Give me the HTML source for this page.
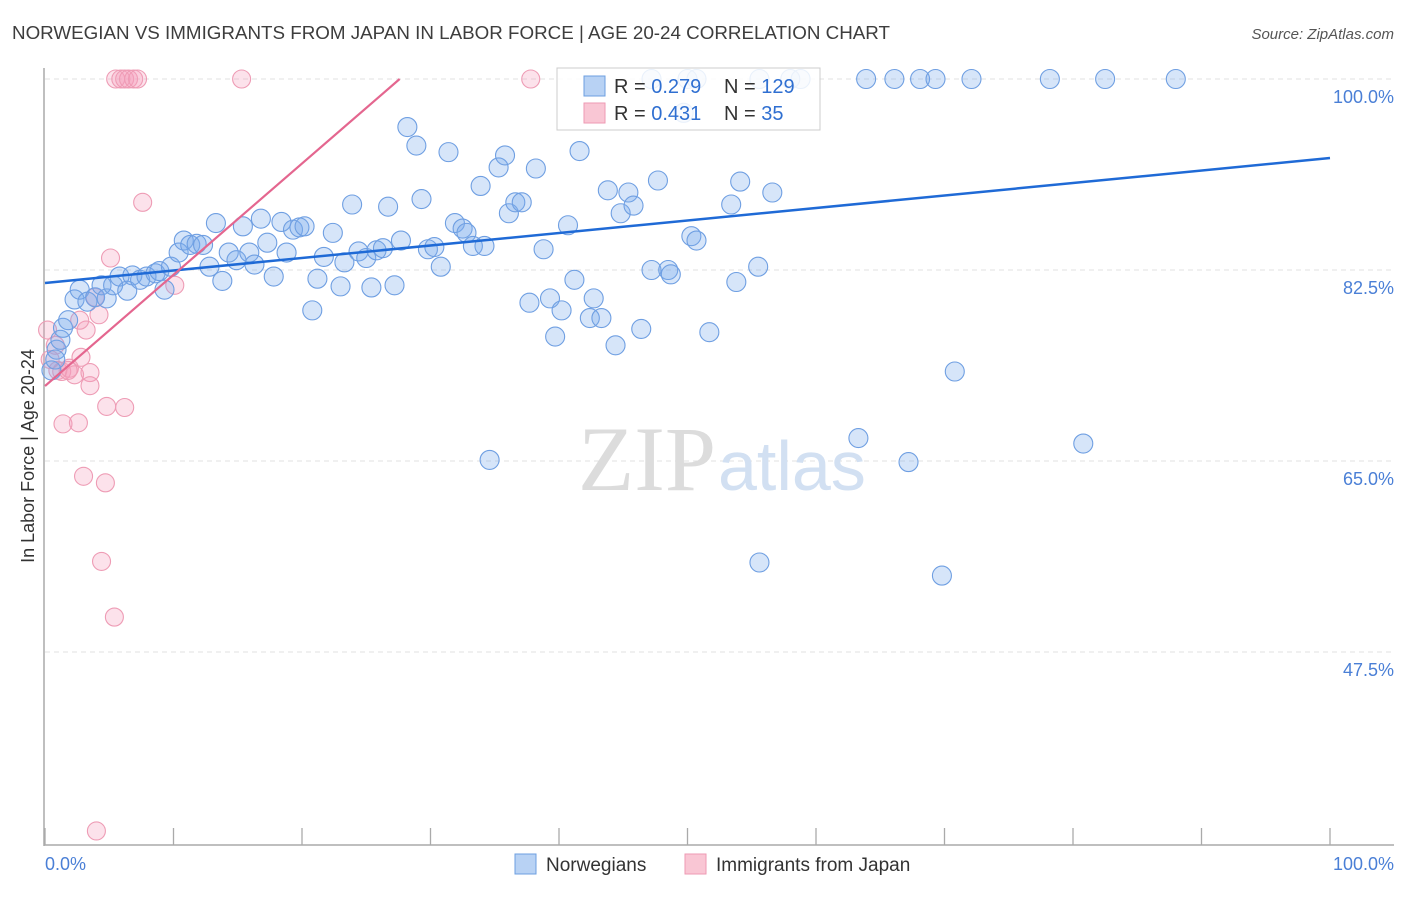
<!DOCTYPE html>
<html><head><meta charset="utf-8">
<style>
body{margin:0;background:#fff;font-family:"Liberation Sans",sans-serif;}
svg text{font-family:"Liberation Sans",sans-serif;}
</style></head>
<body>
<svg id="chart" width="1406" height="892" viewBox="0 0 1406 892" xmlns="http://www.w3.org/2000/svg">
<text x="12" y="39" font-size="18.8" fill="#3d3d3d">NORWEGIAN VS IMMIGRANTS FROM JAPAN IN LABOR FORCE | AGE 20-24 CORRELATION CHART</text>
<text x="1394" y="39" font-size="15" fill="#555" font-style="italic" text-anchor="end">Source: ZipAtlas.com</text>
<g id="grid"></g>
<text x="716" y="490" font-size="92" fill="#dcdcdc" text-anchor="end" style="font-family:'Liberation Serif',serif">ZIP</text>
<text x="718" y="490" font-size="70" fill="#d2e0f2">atlas</text>
<line x1="44" y1="68" x2="44" y2="846" stroke="#aaa" stroke-width="1.5"/>
<line x1="44" y1="845" x2="1394" y2="845" stroke="#aaa" stroke-width="1.5"/>
<g id="xticks"></g>
<g id="points"></g>
<g id="lines"></g>
<text transform="translate(34,456) rotate(-90)" font-size="18" fill="#333" text-anchor="middle">In Labor Force | Age 20-24</text>
<text x="45" y="870" font-size="18" fill="#4a7fd6">0.0%</text>
<text x="1394" y="870" font-size="18" fill="#4a7fd6" text-anchor="end">100.0%</text>
<g>
<rect x="557" y="68" width="263" height="62" fill="#fff" fill-opacity="0.85" stroke="#ccc"/>
<rect x="584" y="76" width="21" height="20" fill="#b8d2f4" stroke="#6d9fe0"/>
<rect x="584" y="103" width="21" height="20" fill="#f9c6d4" stroke="#ee9ab3"/>
<text x="614" y="93" font-size="20" fill="#333">R = <tspan fill="#2f6fd1">0.279</tspan></text>
<text x="724" y="93" font-size="20" fill="#333">N = <tspan fill="#2f6fd1">129</tspan></text>
<text x="614" y="120" font-size="20" fill="#333">R = <tspan fill="#2f6fd1"> 0.431</tspan></text>
<text x="724" y="120" font-size="20" fill="#333">N = <tspan fill="#2f6fd1">  35</tspan></text>
</g>
<g>
<rect x="515" y="854" width="21" height="20" fill="#b8d2f4" stroke="#6d9fe0"/>
<text x="546" y="871" font-size="19" fill="#333">Norwegians</text>
</g>
<g>
<rect x="685" y="854" width="21" height="20" fill="#f9c6d4" stroke="#ee9ab3"/>
<text x="716" y="871" font-size="19" fill="#333">Immigrants from Japan</text>
</g>
</svg>
<script>
const yTicks=[100,82.5,65,47.5];
const yTickLabels=["100.0%","82.5%","65.0%","47.5%"];
const blueX=[2.3,2.7,3.3,3.9,4.4,4.8,5.3,5.8,6.4,6.8,7.4,7.9,8.6,8.9,9.3,9.8,10.4,10.8,11.3,11.8,12.3,12.8,13.3,13.8,14.3,14.9,15.4,15.9,16.3,16.8,17.3,17.8,18.4,18.8,19.3,19.8,20.2,20.8,21.2,21.7,22.4,23.0,23.3,23.9,24.4,25.0,25.4,25.8,26.3,26.7,27.2,27.7,28.2,28.9,29.3,29.8,30.3,30.8,31.4,31.9,32.5,32.8,33.3,33.9,34.2,34.6,35.3,35.8,36.1,36.6,37.1,37.7,38.2,38.8,39.3,39.7,40.2,40.7,41.2,41.6,42.4,42.7,43.3,43.8,44.4,44.8,45.4,45.8,46.4,47.2,47.7,48.5,48.7,50.3,50.7,51.7,53.4,53.8,54.1,55.5,56.6,55.6,63.3,67.2,69.8,70.8,80.8,47.2,50.0,50.7,55.6,58.0,58.8,63.9,66.1,68.1,69.3,72.1,78.2,82.5,88.0,49.7,0.9,1.2,0.5,1.4,1.8,0.8];
const blueY=[79.8,80.7,79.6,80.0,81.1,79.9,81.1,81.9,80.6,82.0,81.6,81.9,82.2,82.4,80.7,82.8,84.1,85.2,84.8,84.9,84.8,82.8,86.8,81.5,84.1,83.4,86.5,84.1,83.0,87.2,85.0,81.9,86.9,84.1,86.2,86.4,86.5,78.8,81.7,83.7,85.9,81.0,83.2,88.5,84.2,83.6,80.9,84.3,84.5,88.3,81.1,85.2,95.6,93.9,89.0,84.4,84.6,82.8,93.3,86.8,86.3,85.9,84.7,90.2,84.7,65.1,91.9,93.0,87.7,88.7,88.7,79.5,91.8,84.4,79.9,76.4,78.8,86.6,81.6,93.4,78.1,79.9,78.1,89.8,75.6,87.7,89.6,88.4,77.1,82.5,90.7,82.5,82.1,85.6,85.2,76.8,88.5,81.4,90.6,82.8,89.6,55.7,67.1,64.9,54.5,73.2,66.6,100,100,100,100,100,100,100,100,100,100,100,100,100,100,96.9,75.2,76.1,73.3,77.2,77.9,74.3];
const pinkX=[5.5,5.9,6.2,6.5,6.9,7.2,15.3,37.8,7.6,5.1,10.1,3.9,4.2,3.2,2.7,0.2,0.8,1.0,1.3,1.9,2.3,2.8,3.5,3.5,4.8,6.2,1.4,2.6,3.0,4.7,4.4,5.4,4.0,0.4,1.8];
const pinkY=[100,100,100,100,100,100,100,100,88.7,83.6,81.1,80.0,78.4,77.0,77.9,77.0,75.6,73.3,73.2,73.5,72.9,74.5,73.1,71.9,70.0,69.9,68.4,68.5,63.6,63.0,55.8,50.7,31.1,74.3,73.3];
const blueTrend=[81.31,92.76];
const pinkTrend=[71.87,100];
const pinkTrendEndX=27.6;

const NS="http://www.w3.org/2000/svg";
const sx=v=>45+v*12.85;
const sy=v=>79+(100-v)*10.914;
function mk(tag,attrs,parent){const e=document.createElementNS(NS,tag);for(const k in attrs)e.setAttribute(k,attrs[k]);parent.appendChild(e);return e;}
const grid=document.getElementById('grid');
yTicks.forEach((t,i)=>{
  const l=mk('line',{x1:45,x2:1394,y1:sy(t),y2:sy(t),stroke:'#e0e0e0','stroke-dasharray':'5,4'},grid);
  
  
  const tx=mk('text',{x:1394,y:sy(t)+24,'font-size':18,fill:'#4a7fd6','text-anchor':'end'},grid);
  tx.textContent=yTickLabels[i];
  
  
});
const xt=document.getElementById('xticks');
for(let i=0;i<=10;i++){
  const l=mk('line',{x1:sx(i*10),x2:sx(i*10),y1:828,y2:845,stroke:'#aaa','stroke-width':1.3},xt);
  
  
}
const pts=document.getElementById('points');
pinkX.forEach((x,i)=>{
  const c=mk('circle',{cx:sx(x),cy:sy(pinkY[i]),r:9,fill:'rgba(244,160,188,0.3)',stroke:'#ee9cb5','stroke-width':1.1},pts);
  
  
});
blueX.forEach((x,i)=>{
  const c=mk('circle',{cx:sx(x),cy:sy(blueY[i]),r:9.5,fill:'rgba(120,170,235,0.3)',stroke:'#6f9fe2','stroke-width':1.1},pts);
  
  
});
const lines=document.getElementById('lines');
const bl=mk('line',{x1:sx(0),y1:sy(blueTrend[0]),x2:sx(100),y2:sy(blueTrend[1]),stroke:'#1f6ad6','stroke-width':2.5},lines);


const pl=mk('line',{x1:sx(0),y1:sy(pinkTrend[0]),x2:sx(pinkTrendEndX),y2:sy(pinkTrend[1]),stroke:'#e4668f','stroke-width':2.2},lines);


</script>
</body></html>
